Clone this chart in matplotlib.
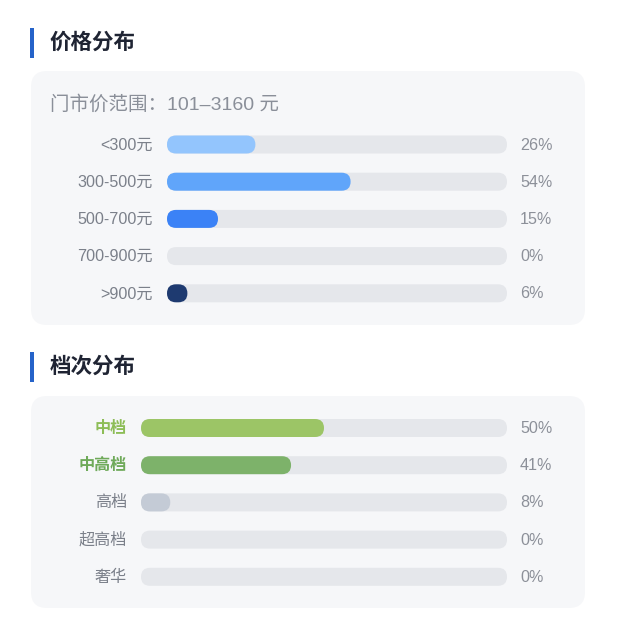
import matplotlib
matplotlib.use("Agg")
import matplotlib.pyplot as plt
from matplotlib.patches import FancyBboxPatch, Rectangle

plt.rcParams['font.family'] = ['Liberation Sans', 'Noto Sans CJK SC', 'DejaVu Sans']

# price distribution
price_labels = ["<300元", "300-500元", "500-700元", "700-900元", ">900元"]
price_values = [26, 54, 15, 0, 6]
price_colors = ["#93c5fd", "#60a5fa", "#3b82f6", "#2563eb", "#1e3a70"]
price_range = "门市价范围：101–3160 元"

# grade distribution
grade_labels = ["中档", "中高档", "高档", "超高档", "奢华"]
grade_values = [50, 41, 8, 0, 0]
grade_colors = ["#9cc566", "#7db26a", "#c4cbd6", "#c4cbd6", "#c4cbd6"]
grade_label_colors = ["#8dbd57", "#6faa5a", "#7b808a", "#7b808a", "#7b808a"]

W, H = 618, 634
fig = plt.figure(figsize=(W / 100, H / 100), dpi=100)
ax = fig.add_axes([0, 0, 1, 1])
ax.set_xlim(0, W)
ax.set_ylim(H, 0)
ax.axis("off")

TRACK = "#e5e7eb"
CARD = "#f6f7f9"
GRAY = "#7b808a"


def rbox(x, y, w, h, r, color, z=1):
    ax.add_patch(FancyBboxPatch((x, y), w, h,
                                boxstyle=f"round,pad=0,rounding_size={r}",
                                fc=color, ec="none", zorder=z))


def section(title, y_title, card_top, card_bot):
    ax.add_patch(Rectangle((30, y_title - 15), 4, 30, fc="#2563c9", ec="none"))
    ax.text(50, y_title + 0.5, title, fontsize=15.5, fontweight="bold", color="#1f2433",
            va="center", ha="left")
    rbox(31, card_top, 554, card_bot - card_top, 16, CARD, z=0)


def bars(labels, values, colors, label_colors, y0, dy, lab_x, x0, x1, bold):
    h = 18
    span = x1 - x0
    for i, (lab, v) in enumerate(zip(labels, values)):
        yc = y0 + i * dy
        ax.text(lab_x, yc + 0.5, lab, fontsize=11.6, color=label_colors[i], ha="right",
                va="center", fontweight="bold" if bold[i] else "normal")
        rbox(x0, yc - h / 2, span, h, h / 2, TRACK, z=1)
        if v > 0:
            w = max(span * v / 100, h)
            rbox(x0, yc - h / 2, w, h, h / 2, colors[i], z=2)
        ax.text(520, yc + 0.5, f"{v}%", fontsize=11.6, color="#8c9099", ha="left",
                va="center")


section("价格分布", 43, 71, 325)
ax.text(50, 104.5, price_range, fontsize=14, color="#8a8f99", ha="left", va="center")
bars(price_labels, price_values, price_colors, [GRAY] * 5, 144.5, 37.2, 153, 167, 507,
     [False] * 5)

section("档次分布", 367, 396, 608)
bars(grade_labels, grade_values, grade_colors, grade_label_colors, 428, 37.2, 127,
     141, 507, [True, True, False, False, False])

fig.savefig("out.png", dpi=100, facecolor="white")
